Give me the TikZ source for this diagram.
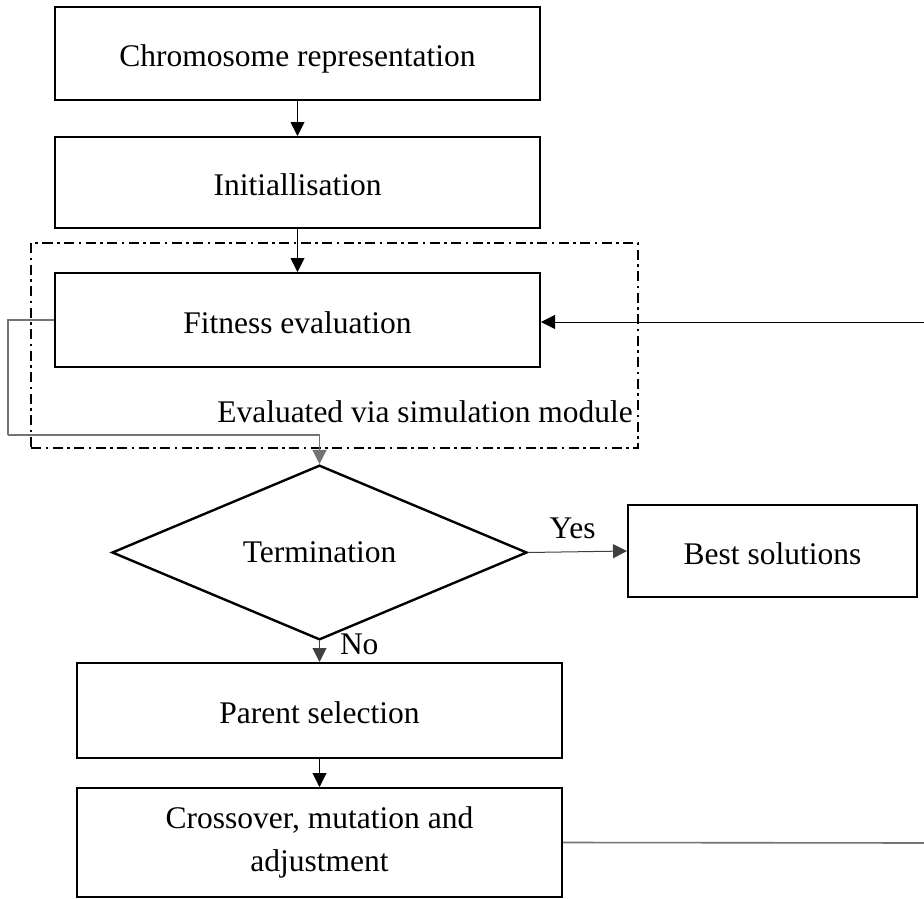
\documentclass[tikz,border=0pt]{standalone}
\usepackage{fontspec}
\setmainfont{Liberation Serif}
\usetikzlibrary{shapes.geometric,arrows.meta}
\begin{document}
\begin{tikzpicture}[x=1pt,y=-1pt,
  every node/.style={font=\fontsize{31.5}{43}\selectfont},
  stage/.style={draw, line width=2pt, inner sep=0pt, align=center,
    text height=26pt, text depth=0pt},
  decision/.style={diamond, draw, line width=2.4pt, inner sep=0pt,
    minimum width=415pt, minimum height=139pt},
  modulebox/.style={draw, line width=1.8pt,
    dash pattern=on 10pt off 4.5pt on 2.5pt off 4.5pt,
    minimum width=607pt, minimum height=205pt, inner sep=0pt},
  tip/.style={-{Triangle[length=14pt,width=14pt]}},
  flow/.style={line width=1pt, tip},
  feedback/.style={line width=1.3pt, draw=black!55},
  tag/.style={inner sep=0pt, anchor=base}
]
\useasboundingbox (0,0) rectangle (924,899);

% simulation module frame
\node[modulebox] (module) at (334.5,345.5) {};

% stages of the algorithm
\node[stage, minimum width=485pt, minimum height=92pt] (chrom) at (297.5,53.5) {Chromosome representation};
\node[stage, minimum width=485pt, minimum height=91pt] (init) at (297.5,182.5) {Initiallisation};
\node[stage, minimum width=485pt, minimum height=94pt] (fit) at (297.5,320) {Fitness evaluation};
\node[anchor=base east, inner sep=0pt] (modlabel) at (633,422) {Evaluated via simulation module};
\node[decision] (term) at (319.5,552.5) {Termination};
\node[stage, minimum width=289pt, minimum height=92pt] (best) at (772.5,551) {Best solutions};
\node[stage, minimum width=485pt, minimum height=95pt] (parent) at (319.5,710.5) {Parent selection};
\node[stage, minimum width=485pt, minimum height=109pt, text height=, text depth=] (cross) at (319.5,842.5)
  {Crossover, mutation and\\adjustment};

% loop ends at the right margin
\coordinate (edgeTop) at (924,322);
\coordinate (edgeBot) at (924,843);
\coordinate (lowLeft) at (8,435);

% connectors
\draw[flow] (chrom) -- (init);
\draw[flow] (init) -- (fit);
\draw[feedback] (fit.west) -| (lowLeft);
\draw[feedback, tip] (lowLeft) -| (term.north);
\draw[flow, draw=black!75] (term.east) -- (best.west)
  node[tag, pos=0.45, yshift=13pt] {Yes};
\draw[flow, draw=black!75] (term.south) -- (parent.north)
  node[tag, anchor=base west, pos=0.62, xshift=20pt] {No};
\draw[flow] (parent) -- (cross);
\draw[feedback, line width=1.6pt] (cross.east) -- (edgeBot);
\draw[flow] (edgeTop) -- (fit.east |- edgeTop);
\end{tikzpicture}
\end{document}
